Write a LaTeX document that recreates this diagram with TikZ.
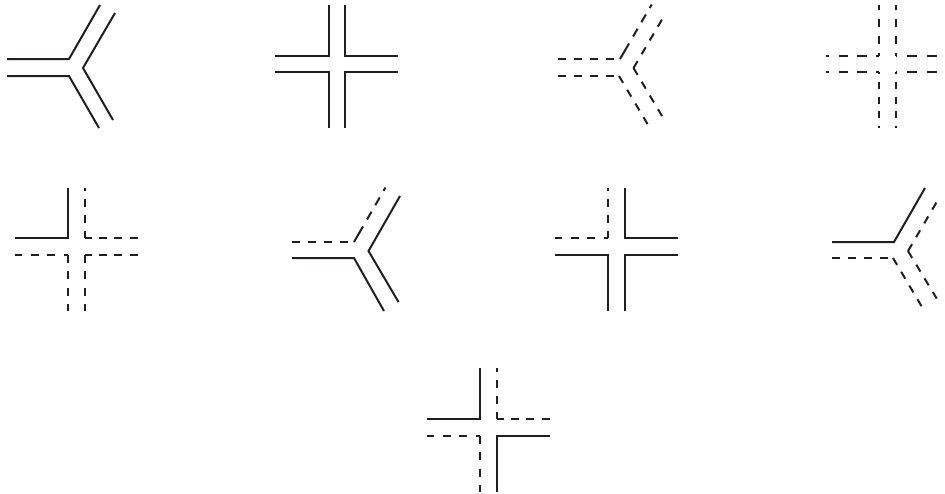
\documentclass[tikz,border=0pt]{standalone}
\usepackage{xcolor}
\definecolor{mywall}{RGB}{35,31,32}
\tikzset{
  wall/.style={draw=mywall, line width=2pt, line join=miter},
  dashwall/.style={wall, dash pattern=on 8pt off 8pt},
  yarm/.style={wall, dash pattern=on 18pt off 8pt on 9pt off 7.5pt on 9pt off 7.5pt on 9pt off 8pt},
  armup/.style={wall, dash pattern=on 8pt off 8pt, dash phase=1pt},
  armdown/.style={wall, dash pattern=on 8pt off 8.4pt},
  armleft/.style={wall, dash pattern=on 8pt off 8.4pt, dash phase=3.5pt},
  armright/.style={wall, dash pattern=on 8pt off 7.3pt, dash phase=1.3pt},
  opendown/.style={wall, dash pattern=on 7pt off 7.8pt, dash phase=5pt},
  openup/.style={wall, dash pattern=on 8.2pt off 8.6pt, dash phase=4.7pt},
  openleft/.style={wall, dash pattern=on 9.5pt off 9.25pt, dash phase=6.5pt},
  openright/.style={wall, dash pattern=on 10pt off 10pt, dash phase=9pt}
}
\begin{document}
\begin{tikzpicture}[x=1pt, y=-1pt]
  \useasboundingbox (0,0) rectangle (945,493);

  % top row
  \draw[wall] (7,59) -- (69,59) -- (100,5);
  \draw[wall] (7,76) -- (69,76) -- (99,128);
  \draw[wall] (115,13) -- (83,68) -- (113,120);

  \draw[wall] (275,56) -- (329,56) -- (329,5);
  \draw[wall] (345,5) -- (345,56) -- (398,56);
  \draw[wall] (275,72) -- (329,72) -- (329,128);
  \draw[wall] (345,128) -- (345,72) -- (398,72);

  \draw[dashwall] (558,59) -- (620,59);
  \draw[yarm] (620,59) -- (651.7,4.5);
  \draw[dashwall] (558,76) -- (619,76);
  \draw[dashwall] (619,76) -- (647.5,124);
  \draw[dashwall] (633.5,68) -- (662.3,19);
  \draw[dashwall] (633.5,68) -- (662,116);

  \draw[openup] (879,56) -- (879,5);
  \draw[openleft] (879,56) -- (826,56);
  \draw[openup] (896,56) -- (896,5);
  \draw[openright] (896,56) -- (937,56);
  \draw[opendown] (879,72) -- (879,128);
  \draw[openleft] (879,72) -- (826,72);
  \draw[opendown] (896,72) -- (896,128);
  \draw[openright] (896,72) -- (937,72);

  % middle row
  \draw[wall] (15,238) -- (68,238) -- (68,188);
  \draw[armup] (85,238) -- (85,188);
  \draw[armright] (85,238) -- (138,238);
  \draw[armleft] (68,255) -- (15,255);
  \draw[armdown] (68,255) -- (68,311);
  \draw[armright] (85,255) -- (138,255);
  \draw[armdown] (85,255) -- (85,311);

  \draw[dashwall] (292,242) -- (354,242);
  \draw[yarm] (354,242) -- (385.5,187.5);
  \draw[wall] (292,258) -- (354,258) -- (384,311);
  \draw[wall] (400,196) -- (368.5,251) -- (398.5,302);

  \draw[armup] (608,238) -- (608,188);
  \draw[armleft] (608,238) -- (555,238);
  \draw[wall] (625,188) -- (625,238) -- (678,238);
  \draw[wall] (555,255) -- (608,255) -- (608,311);
  \draw[wall] (625,311) -- (625,255) -- (678,255);

  \draw[wall] (832,242) -- (894,242) -- (925,188);
  \draw[dashwall] (832,258) -- (893,258);
  \draw[dashwall] (893,258) -- (921.7,306.5);
  \draw[dashwall] (908,251) -- (936.7,202);
  \draw[dashwall] (908,251) -- (936.7,298.5);

  % bottom row
  \draw[wall] (427,419) -- (480,419) -- (480,368);
  \draw[armup] (497,419) -- (497,368);
  \draw[armright] (497,419) -- (550,419);
  \draw[armleft] (480,436) -- (427,436);
  \draw[armdown] (480,436) -- (480,492);
  \draw[wall] (497,492) -- (497,436) -- (550,436);
\end{tikzpicture}
\end{document}
